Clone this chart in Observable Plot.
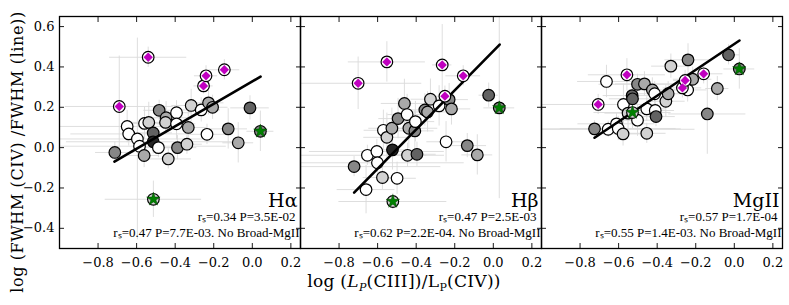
<!DOCTYPE html>
<html><head><meta charset="utf-8">
<script src="https://cdn.jsdelivr.net/npm/d3@7"></script>
<script src="https://cdn.jsdelivr.net/npm/@observablehq/plot@0.6"></script>
<style>
body{margin:0;background:#fff;}
#fig{position:relative;width:789px;height:305px;font-family:"DejaVu Serif",serif;color:#000}
#fig svg{position:absolute;left:0;top:0}
#xlab{position:absolute;left:404px;top:271px;transform:translateX(-50%);font-size:17px;white-space:nowrap;letter-spacing:0.3px}
#ylab{position:absolute;left:17px;top:152px;transform:translate(-50%,-50%) rotate(-90deg);font-size:16px;white-space:nowrap;letter-spacing:0.6px}
sub{font-size:11px}
</style></head><body>
<div id="fig"><div id="xlab">log (<i>L</i><sub><i>P</i></sub>(CIII])/L<sub>P</sub>(CIV))</div><div id="ylab">log (FWHM (CIV) /FWHM (line))</div></div>
<script>
const panels = ["Hα", "Hβ", "MgII"];
const xTicks = [-0.8, -0.6, -0.4, -0.2, 0.0, 0.2];
const yTicks = [-0.4, -0.2, 0.0, 0.2, 0.4, 0.6];

// Panel 1: Hα
const p1X = [-0.713,-0.649,-0.641,-0.596,-0.585,-0.559,-0.537,-0.561,-0.514,-0.514,-0.487,-0.483,-0.447,-0.45,-0.436,-0.393,-0.393,-0.388,-0.339,-0.332,-0.317,-0.265,-0.227,-0.206,-0.235,-0.125,-0.073,-0.012];
const p1Y = [-0.024,0.105,0.068,0.043,0.007,0.12,0.125,-0.039,0.073,0.029,0.0,0.185,0.148,0.125,-0.056,0.173,0.118,0.0,0.017,0.1,0.209,0.187,0.222,0.2,0.066,0.093,0.024,0.197];
const p1Shade = [3,0,0,0,0,0,1,2,4,5,0,3,2,1,1,0,0,3,1,2,1,0,2,2,0,3,2,4];
const p1XErr = [0.1,0.35,0.3,0.4,0.45,0.12,0.1,0.08,0.1,0.45,0.1,0.08,0.12,0.1,0.12,0.08,0.1,0.1,0.08,0.1,0.1,0.1,0.08,0.08,0.1,0.1,0.08,0.1];
const p1YErr = [0.05,0.08,0.06,0.5,0.06,0.08,0.1,0.06,0.05,0.06,0.05,0.05,0.08,0.06,0.05,0.06,0.08,0.06,0.05,0.1,0.08,0.06,0.06,0.06,0.05,0.1,0.1,0.06];
const p1DiaX = [-0.69,-0.54,-0.253,-0.24,-0.145];
const p1DiaY = [0.204,0.448,0.306,0.356,0.386];
const p1DiaXErr = [0.28,0.2,0.05,0.06,0.08];
const p1DiaYErr = [0.25,0.05,0.04,0.05,0.05];
const p1StarX = [-0.513,0.042];
const p1StarY = [-0.256,0.081];
const p1StarShade = [1,3];
const p1StarXErr = [0.25,0.07];
const p1StarYErr = [0.09,0.1];
const p1LineX = [-0.715,0.043];
const p1LineY = [-0.069,0.352];

// Panel 2: Hβ
const p2X = [-0.722,-0.66,-0.653,-0.604,-0.601,-0.575,-0.57,-0.552,-0.526,-0.523,-0.499,-0.494,-0.461,-0.447,-0.445,-0.438,-0.407,-0.404,-0.396,-0.355,-0.341,-0.326,-0.281,-0.229,-0.217,-0.245,-0.135,-0.083,-0.024];
const p2Y = [-0.094,-0.208,-0.038,-0.019,-0.075,-0.148,0.086,0.051,0.096,-0.011,-0.152,0.144,0.219,0.164,-0.038,0.096,0.083,0.129,-0.033,0.187,0.177,0.24,0.207,0.238,0.192,0.029,0.01,-0.036,0.26];
const p2Shade = [3,0,0,0,0,1,0,1,2,5,0,3,2,0,1,2,3,0,4,3,2,1,0,3,2,0,3,2,4];
const p2XErr = [0.45,0.15,0.4,0.35,0.45,0.1,0.1,0.12,0.12,0.1,0.1,0.1,0.12,0.1,0.1,0.15,0.1,0.1,0.1,0.1,0.1,0.1,0.08,0.1,0.1,0.1,0.1,0.08,0.05];
const p2YErr = [0.05,0.12,0.05,0.06,0.05,0.06,0.1,0.12,0.1,0.1,0.08,0.1,0.12,0.1,0.06,0.1,0.1,0.1,0.06,0.08,0.1,0.1,0.1,0.08,0.08,0.1,0.06,0.1,0.06];
const p2DiaX = [-0.701,-0.552,-0.265,-0.251,-0.156];
const p2DiaY = [0.319,0.425,0.41,0.255,0.356];
const p2DiaXErr = [0.33,0.2,0.05,0.05,0.09];
const p2DiaYErr = [0.13,0.1,0.2,0.05,0.05];
const p2StarX = [-0.521,0.031];
const p2StarY = [-0.267,0.197];
const p2StarShade = [1,3];
const p2StarXErr = [0.28,0.08];
const p2StarYErr = [0.04,0.45];
const p2LineX = [-0.722,0.033];
const p2LineY = [-0.223,0.511];

// Panel 3: MgII
const p3X = [-0.725,-0.663,-0.654,-0.611,-0.602,-0.577,-0.575,-0.551,-0.53,-0.528,-0.502,-0.502,-0.466,-0.454,-0.454,-0.425,-0.413,-0.41,-0.406,-0.355,-0.343,-0.329,-0.24,-0.242,-0.216,-0.088,-0.14,-0.03];
const p3Y = [0.093,0.328,0.091,0.118,0.095,0.068,0.214,0.171,0.258,0.242,0.136,0.314,0.316,0.192,0.071,0.286,0.267,0.184,0.154,0.23,0.267,0.404,0.435,0.286,0.339,0.293,0.167,0.46];
const p3Shade = [3,0,0,0,0,1,0,1,4,4,0,3,2,0,1,2,0,0,4,1,2,1,3,0,2,2,3,4];
const p3XErr = [0.45,0.15,0.45,0.2,0.3,0.1,0.1,0.12,0.15,0.12,0.1,0.2,0.15,0.1,0.1,0.12,0.1,0.1,0.1,0.1,0.1,0.1,0.12,0.1,0.1,0.06,0.2,0.06];
const p3YErr = [0.04,0.08,0.04,0.05,0.06,0.06,0.1,0.1,0.08,0.08,0.08,0.05,0.06,0.06,0.05,0.06,0.06,0.06,0.05,0.08,0.06,0.06,0.08,0.06,0.06,0.06,0.2,0.05];
const p3DiaX = [-0.706,-0.557,-0.269,-0.255,-0.159];
const p3DiaY = [0.214,0.361,0.296,0.333,0.366];
const p3DiaXErr = [0.3,0.2,0.1,0.06,0.1];
const p3DiaYErr = [0.05,0.08,0.05,0.05,0.05];
const p3StarX = [-0.528,0.026];
const p3StarY = [0.174,0.39];
const p3StarShade = [1,3];
const p3StarXErr = [0.2,0.08];
const p3StarYErr = [0.08,0.1];
const p3LineX = [-0.725,0.027];
const p3LineY = [0.049,0.531];

const statA = ["rₛ=0.34 P=3.5E-02", "rₛ=0.47 P=2.5E-03", "rₛ=0.57 P=1.7E-04"];
const statB = ["rₛ=0.47 P=7.7E-03. No Broad-MgII", "rₛ=0.62 P=2.2E-04. No Broad-MgII", "rₛ=0.55 P=1.4E-03. No Broad-MgII"];

const grays = ["#ffffff","#d2d2d2","#a9a9a9","#878787","#626262","#262626"];

function rows(panel, xs, ys, extra = {}) {
  return xs.map((x, i) => {
    const r = {panel, x, y: ys[i]};
    for (const k in extra) r[k] = extra[k][i];
    return r;
  });
}
const circles = [
  ...rows(panels[0], p1X, p1Y, {shade: p1Shade, xe: p1XErr, ye: p1YErr}),
  ...rows(panels[1], p2X, p2Y, {shade: p2Shade, xe: p2XErr, ye: p2YErr}),
  ...rows(panels[2], p3X, p3Y, {shade: p3Shade, xe: p3XErr, ye: p3YErr})
];
const diamonds = [
  ...rows(panels[0], p1DiaX, p1DiaY, {xe: p1DiaXErr, ye: p1DiaYErr}),
  ...rows(panels[1], p2DiaX, p2DiaY, {xe: p2DiaXErr, ye: p2DiaYErr}),
  ...rows(panels[2], p3DiaX, p3DiaY, {xe: p3DiaXErr, ye: p3DiaYErr})
];
const stars = [
  ...rows(panels[0], p1StarX, p1StarY, {shade: p1StarShade, xe: p1StarXErr, ye: p1StarYErr}),
  ...rows(panels[1], p2StarX, p2StarY, {shade: p2StarShade, xe: p2StarXErr, ye: p2StarYErr}),
  ...rows(panels[2], p3StarX, p3StarY, {shade: p3StarShade, xe: p3StarXErr, ye: p3StarYErr})
];
const fits = [
  ...rows(panels[0], p1LineX, p1LineY),
  ...rows(panels[1], p2LineX, p2LineY),
  ...rows(panels[2], p3LineX, p3LineY)
];
const allPts = [...circles, ...diamonds, ...stars];
const labels = panels.map((p, i) => ({panel: p, name: p, a: statA[i], b: statB[i]}));

const ebColor = "#dadada";
const fmt = d3.format(".1f");

const chart = Plot.plot({
  width: 789, height: 305,
  marginLeft: 58.5, marginRight: 6.5, marginTop: 16, marginBottom: 57,
  style: {fontFamily: "DejaVu Serif, serif", fontSize: "13px", background: "transparent", color: "#000"},
  fx: {domain: panels, padding: 0, axis: null, label: null},
  x: {domain: [-1.0, 0.25], label: null},
  y: {domain: [-0.5, 0.65], label: null},
  color: {type: "ordinal", domain: [0,1,2,3,4,5], range: grays},
  marks: [
    Plot.ruleY(allPts, {fx: "panel", y: "y", x1: d => d.x - d.xe, x2: d => d.x + d.xe, stroke: ebColor, strokeWidth: 0.9, clip: true}),
    Plot.ruleX(allPts, {fx: "panel", x: "x", y1: d => d.y - d.ye, y2: d => d.y + d.ye, stroke: ebColor, strokeWidth: 0.9, clip: true}),
    Plot.dot(circles, {fx: "panel", x: "x", y: "y", r: 5.8, fill: "shade", stroke: "#000", strokeWidth: 1.2}),
    Plot.line(fits, {fx: "panel", x: "x", y: "y", z: "panel", stroke: "#000", strokeWidth: 2.6}),
    Plot.dot(diamonds, {fx: "panel", x: "x", y: "y", r: 5.8, fill: "#fff", stroke: "#000", strokeWidth: 1.2}),
    Plot.dot(diamonds, {fx: "panel", x: "x", y: "y", r: 4.2, symbol: "diamond2", fill: "#c000c0", stroke: "none"}),
    Plot.dot(stars, {fx: "panel", x: "x", y: "y", r: 5.8, fill: "shade", stroke: "#000", strokeWidth: 1.2}),
    Plot.dot(stars, {fx: "panel", x: "x", y: "y", r: 4.2, symbol: "star", fill: "#008000", stroke: "#004000", strokeWidth: 0.5}),
    Plot.text(labels, {fx: "panel", text: "name", frameAnchor: "bottom-right", textAnchor: "end", lineAnchor: "bottom", dx: -3, dy: -42, fontSize: 19, fontWeight: 300}),
    Plot.text(labels, {fx: "panel", text: "a", frameAnchor: "bottom-right", textAnchor: "end", lineAnchor: "bottom", dx: -5, dy: -28, fontSize: 13, fontFamily: "Liberation Serif, serif"}),
    Plot.text(labels, {fx: "panel", text: "b", frameAnchor: "bottom-right", textAnchor: "end", lineAnchor: "bottom", dx: -1, dy: -12, fontSize: 13, fontFamily: "Liberation Serif, serif"}),
    Plot.frame({stroke: "#000", strokeWidth: 1.3}),
    Plot.axisX(xTicks, {anchor: "bottom", tickSize: 0, tickPadding: 9, tickFormat: fmt, fontSize: 13}),
    Plot.axisX(xTicks, {anchor: "bottom", tickSize: -5, fill: "none", strokeWidth: 0.9}),
    Plot.axisX(xTicks, {anchor: "top", tickSize: -5, fill: "none", strokeWidth: 0.9, label: null}),
    Plot.axisY(yTicks, {anchor: "left", tickSize: 0, tickPadding: 5, tickFormat: fmt, fontSize: 13}),
    Plot.axisY(yTicks, {anchor: "left", tickSize: -5, fill: "none", strokeWidth: 0.9, facetAnchor: null}),
    Plot.axisY(yTicks, {anchor: "right", tickSize: -5, fill: "none", strokeWidth: 0.9, facetAnchor: null, label: null})
  ]
});
document.getElementById("fig").prepend(chart);
</script>
</body></html>
